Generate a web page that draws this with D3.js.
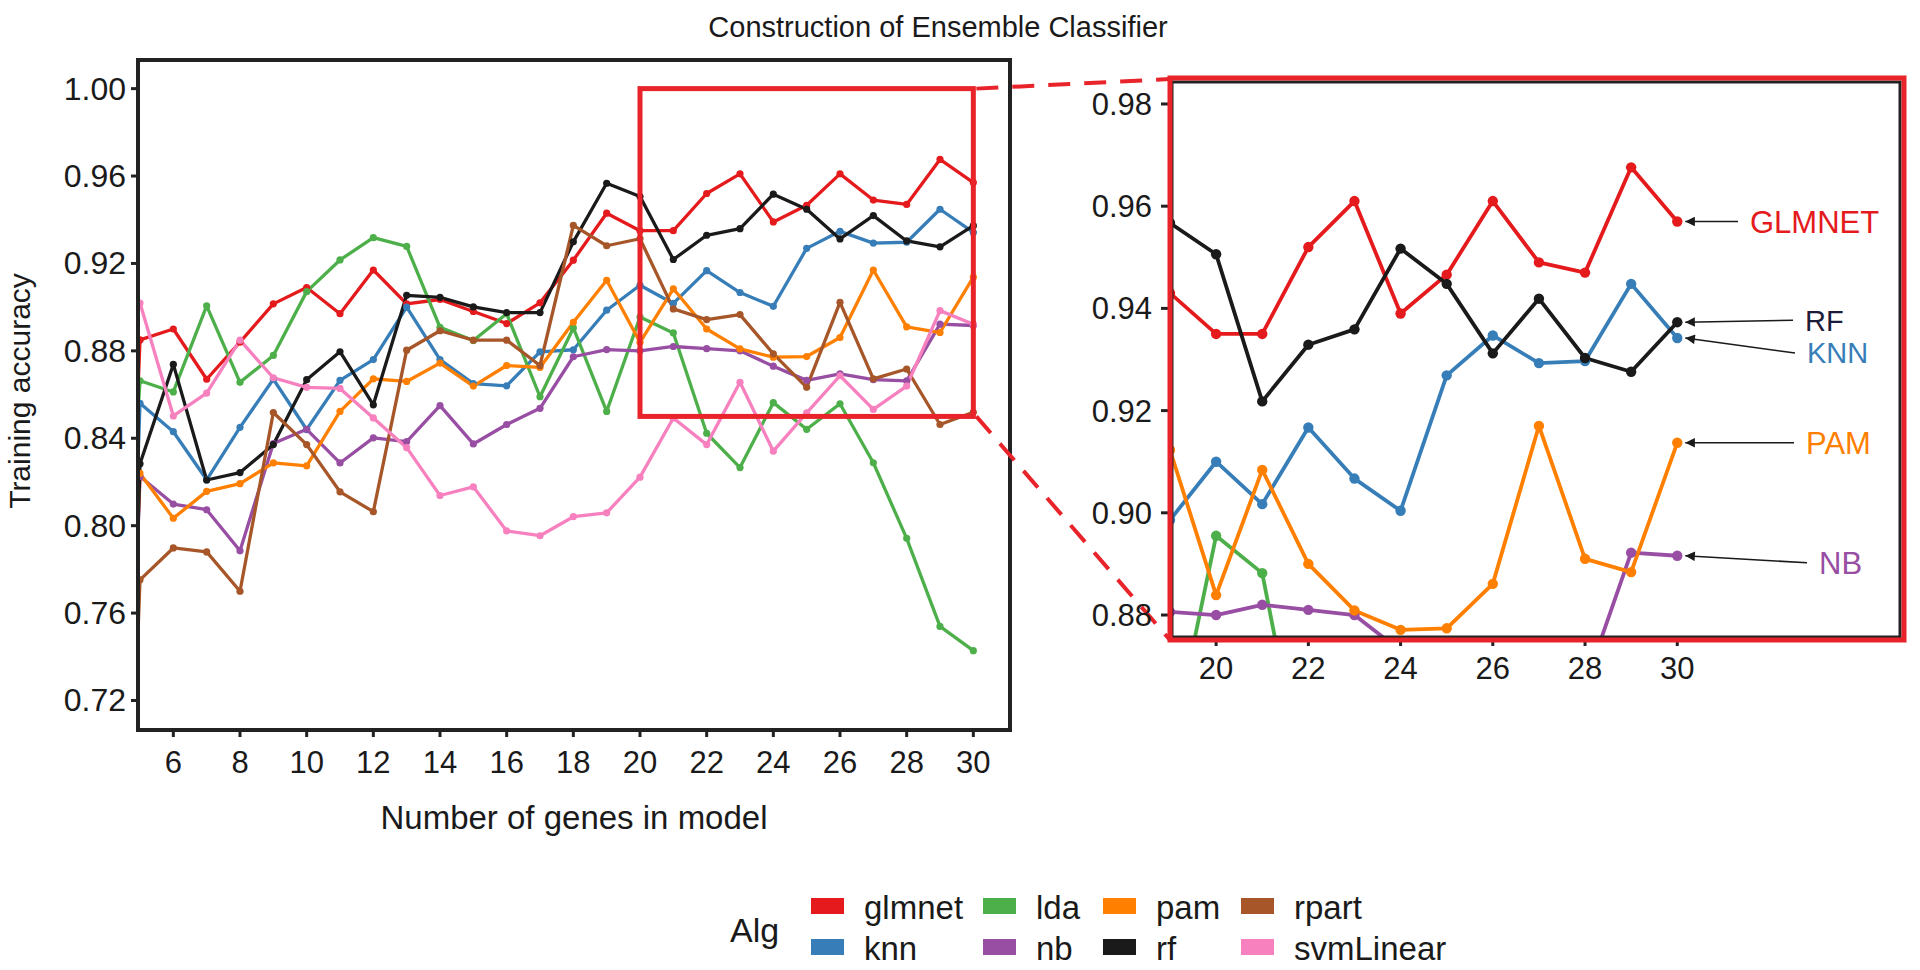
<!DOCTYPE html>
<html>
<head>
<meta charset="utf-8">
<script src="https://cdn.jsdelivr.net/npm/d3@7"></script>
<style>
  body { margin: 0; background: #fff; }
  svg { display: block; font-family: "Liberation Sans", Arial, Helvetica, sans-serif; }
</style>
</head>
<body>
<svg width="1920" height="970"></svg>
<script>
// number of genes (4 sits just left of the visible range and is clipped)
const genes = [4, 5, 6, 7, 8, 9, 10, 11, 12, 13, 14, 15, 16, 17, 18, 19, 20, 21, 22, 23, 24, 25, 26, 27, 28, 29, 30];

const algs = ["glmnet", "knn", "lda", "nb", "pam", "rf", "rpart", "svmLinear"];
const algColors = ["#E41A1C", "#377EB8", "#4DAF4A", "#984EA3", "#FF7F00", "#1A1A1A", "#A65628", "#F781BF"];

const glmnet = [0.50, 0.885, 0.890, 0.867, 0.884, 0.9015, 0.909, 0.897, 0.917, 0.9015, 0.9035, 0.898, 0.8925, 0.902, 0.9215,
  0.943, 0.935, 0.935, 0.952, 0.961, 0.939, 0.9466, 0.961, 0.949, 0.947, 0.9676, 0.957];
const knn = [0.42, 0.856, 0.843, 0.821, 0.845, 0.867, 0.844, 0.8665, 0.876, 0.900, 0.876, 0.865, 0.864, 0.8795, 0.8805,
  0.8986, 0.910, 0.9017, 0.9167, 0.9067, 0.9004, 0.9269, 0.9347, 0.9293, 0.9297, 0.9448, 0.9342];
const lda = [0.63, 0.8663, 0.8612, 0.9006, 0.8656, 0.8779, 0.9071, 0.9216, 0.9318, 0.9278, 0.8908, 0.8847, 0.897, 0.859, 0.8905,
  0.8523, 0.8955, 0.8882, 0.8423, 0.8266, 0.8563, 0.8441, 0.8558, 0.8288, 0.7942, 0.7539, 0.7428];
const nb = [0.39, 0.8225, 0.8099, 0.8073, 0.7885, 0.8376, 0.8441, 0.8287, 0.8402, 0.8385, 0.8549, 0.8374, 0.8463, 0.8537, 0.8773,
  0.8806, 0.880, 0.882, 0.881, 0.880, 0.873, 0.8665, 0.8695, 0.8668, 0.8663, 0.8922, 0.8916];
const pam = [0.45, 0.8239, 0.8034, 0.8157, 0.8192, 0.8287, 0.8274, 0.8523, 0.8672, 0.866, 0.8744, 0.8639, 0.8733, 0.8724, 0.8931,
  0.9123, 0.8839, 0.9084, 0.890, 0.8809, 0.8771, 0.8774, 0.8861, 0.917, 0.891, 0.8884, 0.9137];
const rf = [0.33, 0.8283, 0.8738, 0.8209, 0.8243, 0.8371, 0.8668, 0.8796, 0.8553, 0.9054, 0.9045, 0.9001, 0.8975, 0.8975, 0.9299,
  0.9567, 0.9506, 0.9218, 0.9329, 0.9359, 0.9517, 0.9448, 0.9312, 0.9419, 0.9303, 0.9276, 0.9373];
const rpart = [0.375, 0.7752, 0.7898, 0.788, 0.770, 0.8518, 0.8371, 0.8155, 0.8064, 0.8803, 0.8892, 0.8849, 0.8849, 0.8733, 0.9374,
  0.9281, 0.9313, 0.8992, 0.8943, 0.8966, 0.8786, 0.8633, 0.9022, 0.8672, 0.8717, 0.8463, 0.8519];
const svmLinear = [0.91, 0.9019, 0.8502, 0.8607, 0.8849, 0.8677, 0.8633, 0.8628, 0.8493, 0.8357, 0.8138, 0.8178, 0.7976, 0.7954, 0.8041,
  0.8059, 0.8222, 0.8493, 0.8371, 0.8656, 0.8341, 0.8516, 0.8686, 0.8532, 0.8639, 0.8984, 0.8922];

const yTicksMain = [0.72, 0.76, 0.80, 0.84, 0.88, 0.92, 0.96, 1.00];
const xTicksMain = [6, 8, 10, 12, 14, 16, 18, 20, 22, 24, 26, 28, 30];
const yTicksInset = [0.88, 0.90, 0.92, 0.94, 0.96, 0.98];
const xTicksInset = [20, 22, 24, 26, 28, 30];

// zoom window shown in the inset
const zoomGenes = [20, 30];
const zoomAcc = [0.85, 1.00];

const insetAlgs = ["glmnet", "knn", "lda", "nb", "pam", "rf"];
const insetNames = ["GLMNET", "RF", "KNN", "PAM", "NB"];
const insetNameAlgs = ["glmnet", "rf", "knn", "pam", "nb"];

const values = { glmnet, knn, lda, nb, pam, rf, rpart, svmLinear };
const color = d3.scaleOrdinal().domain(algs).range(algColors);

const series = algs.map(a => ({
  alg: a,
  points: genes.map((g, i) => ({ g, v: values[a][i] }))
}));

const svg = d3.select("svg");

// title
svg.append("text")
  .attr("x", 938).attr("y", 37)
  .attr("text-anchor", "middle")
  .attr("font-size", "29px")
  .attr("fill", "#1a1a1a")
  .text("Construction of Ensemble Classifier");

// ---------- main panel ----------
const main = { left: 138, right: 1010, top: 60, bottom: 730 };
const x = d3.scaleLinear().domain([4.94, 31.1]).range([main.left, main.right]);
const y = d3.scaleLinear().domain([0.7065, 1.0131]).range([main.bottom, main.top]);

svg.append("clipPath").attr("id", "clipMain")
  .append("rect")
  .attr("x", main.left).attr("y", main.top)
  .attr("width", main.right - main.left).attr("height", main.bottom - main.top);

const mainG = svg.append("g").attr("clip-path", "url(#clipMain)");
const line = d3.line().x(d => x(d.g)).y(d => y(d.v));

mainG.selectAll(".mline")
  .data(series)
  .join("path")
  .attr("class", "mline")
  .attr("d", d => line(d.points))
  .attr("fill", "none")
  .attr("stroke", d => color(d.alg))
  .attr("stroke-width", 3.3)
  .attr("stroke-linejoin", "round");

series.forEach(s => {
  mainG.selectAll(".mpt-" + s.alg)
    .data(s.points)
    .join("circle")
    .attr("class", "mpt-" + s.alg)
    .attr("cx", d => x(d.g))
    .attr("cy", d => y(d.v))
    .attr("r", 3.6)
    .attr("fill", color(s.alg));
});

// axes (ticks + labels)
svg.selectAll(".ytickM")
  .data(yTicksMain)
  .join("line")
  .attr("class", "ytickM")
  .attr("x1", main.left - 7).attr("x2", main.left)
  .attr("y1", d => y(d)).attr("y2", d => y(d))
  .attr("stroke", "#222").attr("stroke-width", 3);

svg.selectAll(".ylabM")
  .data(yTicksMain)
  .join("text")
  .attr("class", "ylabM")
  .attr("x", main.left - 12)
  .attr("y", d => y(d) + 11)
  .attr("text-anchor", "end")
  .attr("font-size", "32px")
  .attr("fill", "#1a1a1a")
  .text(d => d.toFixed(2));

svg.selectAll(".xtickM")
  .data(xTicksMain)
  .join("line")
  .attr("class", "xtickM")
  .attr("x1", d => x(d)).attr("x2", d => x(d))
  .attr("y1", main.bottom).attr("y2", main.bottom + 7)
  .attr("stroke", "#222").attr("stroke-width", 3);

svg.selectAll(".xlabM")
  .data(xTicksMain)
  .join("text")
  .attr("class", "xlabM")
  .attr("x", d => x(d))
  .attr("y", main.bottom + 43)
  .attr("text-anchor", "middle")
  .attr("font-size", "31px")
  .attr("fill", "#1a1a1a")
  .text(d => d);

svg.append("text")
  .attr("x", (main.left + main.right) / 2)
  .attr("y", 829)
  .attr("text-anchor", "middle")
  .attr("font-size", "33px")
  .attr("fill", "#1a1a1a")
  .text("Number of genes in model");

svg.append("text")
  .attr("transform", `translate(30, ${(main.top + main.bottom) / 2 - 4}) rotate(-90)`)
  .attr("text-anchor", "middle")
  .attr("font-size", "30px")
  .attr("fill", "#1a1a1a")
  .text("Training accuracy");

svg.append("rect")
  .attr("x", main.left).attr("y", main.top)
  .attr("width", main.right - main.left).attr("height", main.bottom - main.top)
  .attr("fill", "none").attr("stroke", "#222").attr("stroke-width", 4);

// zoom box
svg.append("rect")
  .attr("x", x(zoomGenes[0])).attr("y", y(zoomAcc[1]))
  .attr("width", x(zoomGenes[1]) - x(zoomGenes[0]))
  .attr("height", y(zoomAcc[0]) - y(zoomAcc[1]))
  .attr("fill", "none").attr("stroke", "#E8232A").attr("stroke-width", 5);

// ---------- inset panel ----------
const inset = { left: 1170, right: 1900, top: 82, bottom: 637 };
const xi = d3.scaleLinear().domain([19, 34.83]).range([inset.left, inset.right]);
const yi = d3.scaleLinear().domain([0.8757, 0.9843]).range([inset.bottom, inset.top]);

// dashed connectors
const conn = [
  [[x(zoomGenes[1]) + 3, y(zoomAcc[1])], [inset.left, inset.top - 3]],
  [[x(zoomGenes[1]) + 3, y(zoomAcc[0])], [inset.left, inset.bottom + 3]]
];
svg.selectAll(".conn")
  .data(conn)
  .join("line")
  .attr("class", "conn")
  .attr("x1", d => d[0][0]).attr("y1", d => d[0][1])
  .attr("x2", d => d[1][0]).attr("y2", d => d[1][1])
  .attr("stroke", "#E8232A").attr("stroke-width", 4)
  .attr("stroke-dasharray", "22,14");

svg.append("clipPath").attr("id", "clipInset")
  .append("rect")
  .attr("x", inset.left).attr("y", inset.top)
  .attr("width", inset.right - inset.left).attr("height", inset.bottom - inset.top);

const insetG = svg.append("g").attr("clip-path", "url(#clipInset)");
const lineI = d3.line().x(d => xi(d.g)).y(d => yi(d.v));
const insetSeries = series.filter(s => insetAlgs.includes(s.alg));

insetG.selectAll(".iline")
  .data(insetSeries)
  .join("path")
  .attr("class", "iline")
  .attr("d", d => lineI(d.points))
  .attr("fill", "none")
  .attr("stroke", d => color(d.alg))
  .attr("stroke-width", 3.8)
  .attr("stroke-linejoin", "round");

insetSeries.forEach(s => {
  insetG.selectAll(".ipt-" + s.alg)
    .data(s.points)
    .join("circle")
    .attr("class", "ipt-" + s.alg)
    .attr("cx", d => xi(d.g))
    .attr("cy", d => yi(d.v))
    .attr("r", 5.2)
    .attr("fill", color(s.alg));
});

svg.selectAll(".ytickI")
  .data(yTicksInset)
  .join("line")
  .attr("class", "ytickI")
  .attr("x1", inset.left - 9).attr("x2", inset.left)
  .attr("y1", d => yi(d)).attr("y2", d => yi(d))
  .attr("stroke", "#222").attr("stroke-width", 3);

svg.selectAll(".ylabI")
  .data(yTicksInset)
  .join("text")
  .attr("class", "ylabI")
  .attr("x", inset.left - 18)
  .attr("y", d => yi(d) + 11)
  .attr("text-anchor", "end")
  .attr("font-size", "31px")
  .attr("fill", "#1a1a1a")
  .text(d => d.toFixed(2));

svg.selectAll(".xtickI")
  .data(xTicksInset)
  .join("line")
  .attr("class", "xtickI")
  .attr("x1", d => xi(d)).attr("x2", d => xi(d))
  .attr("y1", inset.bottom).attr("y2", inset.bottom + 9)
  .attr("stroke", "#222").attr("stroke-width", 3);

svg.selectAll(".xlabI")
  .data(xTicksInset)
  .join("text")
  .attr("class", "xlabI")
  .attr("x", d => xi(d))
  .attr("y", inset.bottom + 42)
  .attr("text-anchor", "middle")
  .attr("font-size", "31px")
  .attr("fill", "#1a1a1a")
  .text(d => d);

svg.append("rect")
  .attr("x", inset.left + 2).attr("y", inset.top)
  .attr("width", inset.right - inset.left - 2).attr("height", inset.bottom - inset.top)
  .attr("fill", "none").attr("stroke", "#222").attr("stroke-width", 3);

svg.append("rect")
  .attr("x", inset.left).attr("y", inset.top - 4)
  .attr("width", inset.right - inset.left + 4).attr("height", inset.bottom - inset.top + 7)
  .attr("fill", "none").attr("stroke", "#E8232A").attr("stroke-width", 5);

// labels with arrows pointing at the last point
svg.append("defs").append("marker")
  .attr("id", "arrow")
  .attr("viewBox", "0 0 10 10")
  .attr("refX", 10).attr("refY", 5)
  .attr("markerWidth", 7).attr("markerHeight", 6)
  .attr("orient", "auto")
  .append("path")
  .attr("d", "M0,0L10,5L0,10z")
  .attr("fill", "#1a1a1a");

const labelX = [1750, 1805, 1807, 1806, 1819];
const labelDy = [0, -2, 15, 0, 7];
const labelSize = [31, 29, 29, 31, 31];
const lastG = genes[genes.length - 1];
const annot = insetNames.map((n, i) => {
  const a = insetNameAlgs[i];
  const py = yi(values[a][genes.length - 1]);
  return { name: n, alg: a, px: xi(lastG), py, lx: labelX[i], ly: py + labelDy[i], size: labelSize[i] };
});

svg.selectAll(".annLine")
  .data(annot)
  .join("line")
  .attr("class", "annLine")
  .attr("x1", d => d.lx - 12).attr("y1", d => d.ly)
  .attr("x2", d => d.px + 8).attr("y2", d => d.py)
  .attr("stroke", "#1a1a1a").attr("stroke-width", 1.6)
  .attr("marker-end", "url(#arrow)");

svg.selectAll(".annText")
  .data(annot)
  .join("text")
  .attr("class", "annText")
  .attr("x", d => d.lx)
  .attr("y", d => d.ly + d.size * 0.36)
  .attr("font-size", d => d.size + "px")
  .attr("fill", d => d.alg === "rf" ? "#1d1d3a" : color(d.alg))
  .text(d => d.name);

// ---------- legend ----------
const legendCols = [811, 983, 1103, 1241];
const legendRows = [898, 939];
svg.append("text")
  .attr("x", 730).attr("y", 942)
  .attr("font-size", "34px")
  .attr("fill", "#1a1a1a")
  .text("Alg");

const legend = svg.selectAll(".leg")
  .data(algs)
  .join("g")
  .attr("class", "leg")
  .attr("transform", (d, i) => `translate(${legendCols[Math.floor(i / 2)]}, ${legendRows[i % 2]})`);

legend.append("rect")
  .attr("width", 33).attr("height", 16)
  .attr("fill", d => color(d));

legend.append("text")
  .attr("x", 53).attr("y", 21)
  .attr("font-size", "33px")
  .attr("fill", "#1a1a1a")
  .text(d => d);
</script>
</body>
</html>
